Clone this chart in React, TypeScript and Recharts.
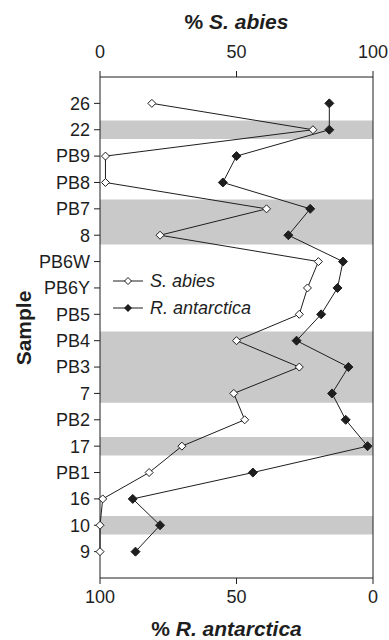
import React from 'react';
import { LineChart, Line, XAxis, YAxis, ReferenceArea, ReferenceLine } from 'recharts';

const samples = ['26', '22', 'PB9', 'PB8', 'PB7', '8', 'PB6W', 'PB6Y', 'PB5', 'PB4', 'PB3', '7', 'PB2', '17', 'PB1', '16', '10', '9'];
const abies = [19, 78, 2, 2, 61, 22, 80, 76, 73, 50, 73, 49, 53, 30, 18, 1, 0, 0];
const antarctica = [16, 16, 50, 55, 23, 31, 11, 13, 19, 28, 9, 15, 10, 2, 44, 88, 78, 87];
const shaded = ['22', 'PB7', '8', 'PB4', 'PB3', '7', '17', '10'];
const pctTicks = [0, 50, 100];

const data = samples.map((s, i) => ({ idx: i + 1, sample: s, abies: abies[i], antarctica: antarctica[i] }));

// group neighbouring shaded samples into one band
const bands: { from: number; to: number }[] = [];
samples.forEach((s, i) => {
  if (!shaded.includes(s)) return;
  const last = bands[bands.length - 1];
  if (last && last.to === i) last.to = i + 1;
  else bands.push({ from: i + 1, to: i + 1 });
});

const FONT = '"Liberation Sans", Arial, sans-serif';
const INK = '#1e1e1e';

const diamond = (cx: number, cy: number, r: number) =>
  `M${cx},${cy - r}L${cx + r},${cy}L${cx},${cy + r}L${cx - r},${cy}Z`;

const OpenDot = (props: any) => {
  const { cx, cy, index } = props;
  if (cx == null || cy == null) return null;
  return <path key={`o-${index}`} d={diamond(cx, cy, 4)} fill="#fff" stroke={INK} strokeWidth={1} />;
};

const FilledDot = (props: any) => {
  const { cx, cy, index } = props;
  if (cx == null || cy == null) return null;
  return <path key={`f-${index}`} d={diamond(cx, cy, 4.5)} fill={INK} stroke={INK} strokeWidth={1} />;
};

const LegendBox = () => (
  <svg width={170} height={50} style={{ fontFamily: FONT, display: 'block' }}>
    <line x1={0} y1={11} x2={30} y2={11} stroke={INK} />
    <path d={diamond(15, 11, 3.5)} fill="#fff" stroke={INK} />
    <text x={37} y={17} fontSize={18} fontStyle="italic" fill={INK}>S. abies</text>
    <line x1={0} y1={38} x2={30} y2={38} stroke={INK} />
    <path d={diamond(15, 38, 4)} fill={INK} />
    <text x={37} y={44} fontSize={18} fontStyle="italic" fill={INK}>R. antarctica</text>
  </svg>
);

const tickStyle = { fill: INK, fontSize: 18, fontFamily: FONT };

export default function App() {
  return (
    <div style={{ position: 'absolute', left: 0, top: 0, width: 389, height: 640, background: '#fff', fontFamily: FONT }}>
      <LineChart
        width={389}
        height={640}
        data={data}
        layout="vertical"
        margin={{ top: 0, right: 16, bottom: 0, left: 0 }}
      >
        <XAxis
          xAxisId="top"
          orientation="top"
          type="number"
          domain={[0, 100]}
          ticks={pctTicks}
          height={77}
          tickSize={6}
          tickMargin={13}
          stroke={INK}
          tick={tickStyle}
        />
        <XAxis
          xAxisId="bottom"
          orientation="bottom"
          type="number"
          domain={[0, 100]}
          reversed
          ticks={pctTicks}
          height={62}
          tickSize={6}
          tickMargin={6}
          stroke={INK}
          tick={tickStyle}
        />
        <YAxis
          type="number"
          dataKey="idx"
          domain={[0, samples.length + 1]}
          ticks={data.map((d) => d.idx)}
          tickFormatter={(v: number) => samples[v - 1] ?? ''}
          width={100}
          tickSize={6}
          tickMargin={4}
          stroke={INK}
          interval={0}
          tick={tickStyle}
        />
        {bands.map((b) => (
          <ReferenceArea
            key={`band-${b.from}`}
            xAxisId="top"
            x1={0}
            x2={100}
            y1={b.from - 0.35}
            y2={b.to + 0.35}
            fill="#c9c9c9"
            fillOpacity={1}
            stroke="none"
          />
        ))}
        <ReferenceLine xAxisId="top" x={100} stroke={INK} />
        <Line
          xAxisId="top"
          dataKey="abies"
          stroke={INK}
          strokeWidth={1}
          dot={OpenDot}
          activeDot={false}
          isAnimationActive={false}
        />
        <Line
          xAxisId="bottom"
          dataKey="antarctica"
          stroke={INK}
          strokeWidth={1}
          dot={FilledDot}
          activeDot={false}
          isAnimationActive={false}
        />
      </LineChart>
      <div style={{ position: 'absolute', left: 113, top: 270 }}>
        <LegendBox />
      </div>
      <div style={{ position: 'absolute', left: 0, width: 473, top: 10, textAlign: 'center', fontSize: 21, fontWeight: 'bold', color: INK }}>
        % <i>S. abies</i>
      </div>
      <div style={{ position: 'absolute', left: 0, width: 453, top: 617, textAlign: 'center', fontSize: 21, fontWeight: 'bold', color: INK }}>
        % <i>R. antarctica</i>
      </div>
      <div
        style={{
          position: 'absolute',
          left: 24,
          top: 328,
          transform: 'translate(-50%, -50%) rotate(-90deg)',
          fontSize: 21,
          fontWeight: 'bold',
          color: INK,
          whiteSpace: 'nowrap',
        }}
      >
        Sample
      </div>
    </div>
  );
}
